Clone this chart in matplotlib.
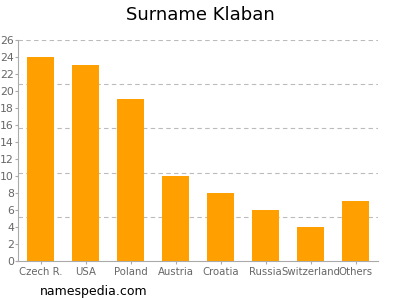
import numpy as np
from matplotlib import pyplot as plt

countries = ['Czech R.', 'USA', 'Poland', 'Austria', 'Croatia', 'Russia', 'Switzerland', 'Others']
counts = [24, 23, 19, 10, 8, 6, 4, 7]
y_ticks = list(range(0, 27, 2))

fig = plt.figure(figsize=(4, 3), dpi=100)
ax = fig.add_axes([0.045, 0.13, 0.9, 0.737])

x = np.arange(len(countries))
ax.bar(x, counts, width=0.62, color='#ffa000', zorder=2)

ax.set_xlim(-0.5, len(countries) - 0.5)
ax.set_ylim(0, 26)
ax.set_yticks(y_ticks)
ax.set_yticklabels([str(t) for t in y_ticks])
ax.set_xticks(x)
ax.set_xticklabels(countries)

# dashed grid at fifths of the axis
for g in np.linspace(0, 26, 6)[1:]:
    ax.axhline(g, color='#bbbbbb', linestyle=(0, (4, 3)), linewidth=0.8, zorder=1)

for side in ['top', 'right']:
    ax.spines[side].set_visible(False)
ax.spines['left'].set_color('#aaaaaa')
ax.spines['bottom'].set_color('#aaaaaa')
ax.tick_params(axis='both', colors='#aaaaaa', labelcolor='#666666', labelsize=7.8, length=2.5, pad=0.5)
ax.tick_params(axis='x', pad=2, labelsize=7.3)

fig.text(0.5, 0.95, 'Surname Klaban', ha='center', va='center', fontsize=13, color='#000000')
fig.text(0.1, 0.028, 'namespedia.com', ha='left', va='center', fontsize=9, color='#000000')

fig.savefig('out.png')
